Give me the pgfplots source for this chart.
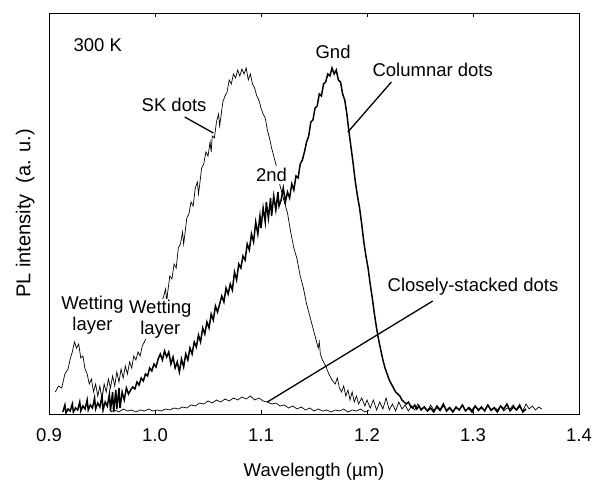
\documentclass[border=0pt]{standalone}
\usepackage{pgfplots}
\pgfplotsset{compat=1.18}
\usepackage{fontspec}
\setmainfont{Liberation Sans}
\begin{document}
\fontsize{18.5}{21}\selectfont
\begin{tikzpicture}
\path[use as bounding box] (0,0) rectangle (594pt,484pt);
\begin{axis}[
  at={(49pt,70pt)}, anchor=south west,
  scale only axis, width=530pt, height=401pt,
  xmin=0.9, xmax=1.4, ymin=0, ymax=401,
  xtick={0.9,1.0,1.1,1.2,1.3,1.4},
  xticklabels={0.9,1.0,1.1,1.2,1.3,1.4},
  ytick=\empty,
  tick align=inside, major tick length=4pt,
  xticklabel style={yshift=-8pt},
  axis line style={line width=0.8pt},
  every tick/.style={line width=0.8pt, black},
  xlabel={Wavelength (µm)},
  ylabel={PL intensity\hspace{11pt}(a. u.)},
  xlabel style={at={(axis description cs:0.5,0)}, anchor=center, yshift=-58pt},
  ylabel style={at={(axis description cs:-0.045,0.5)}, anchor=center, font=\fontsize{20}{22}\selectfont},
  clip=true,
]
% SK dots (thin)
\addplot[black, line width=0.7pt] coordinates {
(0.906,22)(0.909,28)(0.912,26)(0.915,40)(0.918,45)(0.920,55)(0.922,62)(0.924,72)(0.926,66)(0.928,70)
(0.930,56)(0.932,58)(0.934,45)(0.936,40)(0.938,30)(0.940,35)(0.942,22)(0.944,30)(0.946,18)(0.948,28)
(0.950,14)(0.952,30)(0.954,22)(0.956,35)(0.958,26)(0.960,38)(0.962,28)(0.964,42)(0.966,32)(0.968,45)
(0.970,36)(0.972,48)(0.974,40)(0.976,52)(0.978,46)(0.980,58)(0.982,54)(0.984,62)(0.986,58)(0.988,68)
(0.990,72)(0.995,85)(1.000,95)(1.005,108)(1.008,117)(1.010,125)(1.011,112)(1.012,122)(1.014,138)(1.016,135)(1.018,150)
(1.020,146)(1.022,166)(1.024,170)(1.026,182)(1.027,170)(1.028,178)(1.030,196)(1.032,200)(1.034,212)(1.036,208)(1.038,226)
(1.040,232)(1.041,220)(1.042,228)(1.044,246)(1.046,250)(1.048,262)(1.050,258)(1.052,272)(1.053,262)(1.054,278)(1.056,276)(1.058,292)
(1.060,300)(1.061,288)(1.062,296)(1.064,312)(1.066,318)(1.068,322)(1.070,334)(1.072,330)(1.074,340)(1.076,336)(1.078,344)
(1.080,338)(1.082,345)(1.084,340)(1.086,346)(1.088,334)(1.090,340)(1.092,330)(1.094,326)(1.096,318)(1.098,314)
(1.100,306)(1.102,300)(1.104,296)(1.106,284)(1.108,276)(1.110,266)(1.112,258)(1.114,250)(1.116,240)(1.118,228)
(1.120,220)(1.122,212)(1.125,201)(1.128,182)(1.131,166)(1.134,155)(1.137,138)(1.140,126)(1.143,110)(1.146,98)
(1.149,86)(1.152,74)(1.154,66)(1.155,72)(1.156,60)(1.158,54)(1.161,48)(1.164,40)(1.167,34)(1.170,30)(1.172,36)(1.174,26)
(1.176,22)(1.178,28)(1.180,18)(1.182,24)(1.184,14)(1.186,22)(1.188,12)(1.190,18)(1.192,10)(1.195,16)
(1.198,8)(1.200,14)
(1.203,6)(1.206,14)(1.209,4)(1.212,12)(1.215,5)(1.218,16)(1.221,4)(1.224,10)(1.227,3)(1.230,12)
(1.233,5)(1.236,9)(1.239,3)(1.242,8)(1.245,4)(1.248,10)(1.251,5)(1.254,7)(1.257,3)(1.260,9)
(1.263,4)(1.266,6)(1.269,3)(1.272,8)(1.275,4)(1.278,7)(1.281,3)(1.284,6)(1.287,4)(1.290,9)
(1.293,3)(1.296,7)(1.299,4)(1.302,8)(1.305,3)(1.308,6)(1.311,4)(1.314,9)(1.317,3)(1.320,7)
(1.323,4)(1.326,8)(1.329,3)(1.332,6)(1.335,5)(1.338,9)(1.341,4)(1.344,7)(1.347,3)(1.350,10)
(1.353,5)(1.356,8)(1.359,4)(1.362,7)(1.365,5)
};
% Columnar dots (thick)
\addplot[black, line width=1.5pt] coordinates {
(0.913,2)(0.915,9)(0.916,1)(0.918,5)(0.920,3)(0.922,10)(0.923,2)(0.925,6)(0.927,4)(0.929,12)
(0.930,3)(0.932,8)(0.934,5)(0.936,14)(0.937,4)(0.939,9)(0.941,6)(0.943,16)(0.944,5)(0.946,11)
(0.948,7)(0.950,18)(0.951,4)(0.953,12)(0.955,8)(0.957,20)(0.958,3)(0.960,22)(0.961,2)(0.963,24)
(0.964,5)(0.966,26)(0.967,6)(0.969,22)(0.971,14)(0.973,26)(0.975,20)(0.977,24)(0.979,27)(0.981,25)
(0.983,32)(0.985,29)(0.987,36)(0.989,33)(0.991,40)(0.993,38)(0.995,46)(0.997,43)(0.999,50)(1.001,47)
(1.003,55)(1.005,60)(1.007,54)(1.009,63)(1.011,57)(1.013,62)(1.015,50)(1.017,57)(1.019,46)(1.021,52)
(1.023,42)(1.025,55)(1.027,47)(1.029,60)(1.031,54)(1.033,66)(1.035,60)(1.037,72)(1.039,67)(1.041,79)
(1.043,72)(1.045,86)(1.047,80)(1.049,92)(1.051,86)(1.053,100)(1.055,94)(1.057,108)(1.059,102)(1.061,110)
(1.063,118)(1.065,112)(1.067,126)(1.069,120)(1.071,130)(1.073,124)(1.075,142)(1.077,134)(1.079,150)(1.081,146)
(1.083,158)(1.085,154)(1.087,170)(1.089,164)(1.091,180)(1.093,172)(1.095,192)(1.097,180)(1.099,198)(1.100,186)
(1.102,206)(1.104,192)(1.105,212)(1.107,196)(1.109,216)(1.110,198)(1.112,218)(1.114,204)(1.116,222)(1.117,208)
(1.119,214)(1.121,226)(1.123,212)(1.125,222)(1.127,216)(1.129,230)(1.131,224)(1.133,238)(1.135,236)(1.137,250)
(1.139,254)(1.141,262)(1.143,272)(1.145,278)(1.147,292)(1.149,294)(1.151,306)(1.153,308)(1.155,320)(1.157,318)
(1.159,330)(1.161,332)(1.163,340)(1.165,338)(1.167,346)(1.169,340)(1.171,344)(1.173,334)(1.175,332)(1.177,320)
(1.179,314)(1.181,300)(1.183,282)(1.185,266)(1.187,250)(1.189,232)(1.191,218)
(1.193,206)(1.195,190)(1.197,172)(1.199,158)(1.201,146)(1.203,130)(1.205,116)(1.207,100)(1.209,86)(1.211,74)
(1.213,64)(1.215,54)(1.217,46)(1.219,40)(1.221,34)(1.223,30)(1.225,26)(1.227,22)(1.229,20)(1.231,18)
(1.233,14)(1.235,12)(1.237,10)(1.239,12)(1.241,8)(1.243,6)(1.245,9)(1.247,5)(1.249,8)
(1.251,4)(1.254,7)(1.257,3)(1.260,6)(1.263,2)(1.266,8)(1.269,4)(1.272,10)(1.275,3)(1.278,6)
(1.281,2)(1.284,7)(1.287,4)(1.290,9)(1.293,3)(1.296,6)(1.299,2)(1.302,8)(1.305,4)(1.308,7)
(1.311,3)(1.314,9)(1.317,4)(1.320,6)(1.323,2)(1.326,8)(1.329,5)(1.332,10)(1.335,3)(1.338,7)
(1.341,4)(1.344,9)(1.347,2)(1.350,5)
};
% Closely-stacked dots (thin)
\addplot[black, line width=0.7pt] coordinates {
(0.958,2)(0.962,4)(0.966,2)(0.970,5)(0.974,3)(0.978,4)(0.982,2)(0.986,4)(0.990,3)(0.994,5)
(0.998,3)(1.002,4)(1.006,3)(1.010,5)(1.014,4)(1.018,6)(1.022,5)(1.026,7)(1.030,6)(1.034,9)
(1.038,8)(1.042,11)(1.046,10)(1.050,13)(1.054,11)(1.058,14)(1.062,12)(1.066,15)(1.070,13)(1.074,16)
(1.078,14)(1.082,17)(1.086,15)(1.090,18)(1.094,14)(1.098,16)(1.102,13)(1.106,12)(1.110,10)(1.114,11)
(1.118,8)(1.122,9)(1.126,6)(1.130,8)(1.134,5)(1.138,7)(1.142,4)(1.146,6)(1.150,3)(1.154,5)
(1.158,3)(1.162,4)(1.166,2)(1.170,4)(1.174,3)(1.178,5)(1.182,2)(1.186,4)(1.190,3)(1.194,5)
(1.198,2)(1.202,4)
};
% leader lines
\draw[line width=1.3pt] (axis cs:1.028,297) -- (axis cs:1.055,281);
\draw[line width=1.3pt] (axis cs:1.223,332) -- (axis cs:1.182,282);
\draw[line width=1.3pt] (axis cs:1.262,113) -- (axis cs:1.106,12);
% labels
\node at (axis cs:0.946,369) {300 K};
\node at (axis cs:1.018,309) {SK dots};
\node[fill=white, inner sep=2pt] at (axis cs:1.110,239) {2nd};
\node at (axis cs:1.168,362) {Gnd};
\node at (axis cs:1.262,344) {Columnar dots};
\node[fill=white, inner sep=1pt, align=center] at (axis cs:0.941,99) {Wetting\\layer};
\node[fill=white, inner sep=1pt, align=center] at (axis cs:1.005,95) {Wetting\\layer};
\node at (axis cs:1.300,127) {Closely-stacked dots};
\end{axis}
\end{tikzpicture}
\end{document}
